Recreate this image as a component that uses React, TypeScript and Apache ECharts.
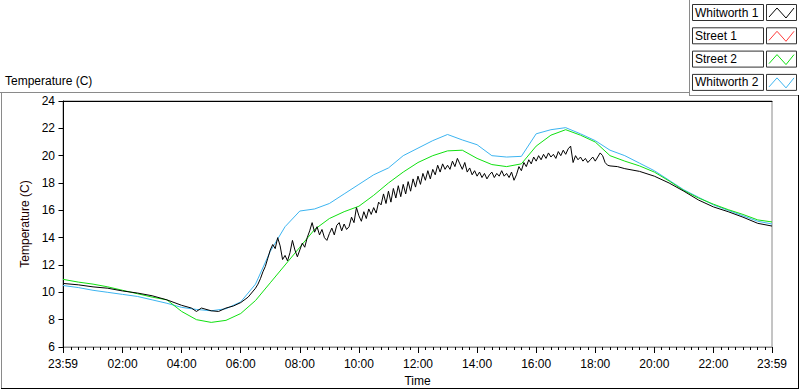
import React, { useEffect, useRef } from "react";
import * as echarts from "echarts";

// ---- axis definitions (hours from midnight; 23:59 of previous day to 23:59) ----
const X_MIN = -1 / 60;
const X_MAX = 24 - 1 / 60;
const majorTickHours = [X_MIN, 2, 4, 6, 8, 10, 12, 14, 16, 18, 20, 22, X_MAX];
const Y_MIN = 6;
const Y_MAX = 24;
const Y_STEP = 2;

const seriesNames = ["Whitworth 1", "Street 1", "Street 2", "Whitworth 2"];
const seriesColors = ["#000000", "#ff3b3b", "#10e010", "#3cb4f0"];

// ---- half-hourly samples for Street 2 and Whitworth 2 ----
const halfHourTimes = [
  X_MIN, 0.5, 1, 1.5, 2, 2.5, 3, 3.5, 4, 4.5, 5, 5.5, 6, 6.5, 7, 7.5, 8, 8.5, 9, 9.5,
  10, 10.5, 11, 11.5, 12, 12.5, 13, 13.5, 14, 14.5, 15, 15.5, 16, 16.5, 17, 17.5, 18,
  18.5, 19, 19.5, 20, 20.5, 21, 21.5, 22, 22.5, 23, 23.5, X_MAX,
];
const street2 = [
  10.95, 10.75, 10.6, 10.4, 10.15, 9.9, 9.65, 9.45, 8.6, 8.0, 7.8, 7.95, 8.45, 9.4,
  10.7, 12.0, 13.3, 14.6, 15.4, 15.9, 16.3, 17.1, 18.0, 18.8, 19.5, 20.0, 20.35, 20.4,
  19.8, 19.35, 19.2, 19.4, 20.7, 21.5, 21.9, 21.5, 21.0, 20.0, 19.6, 19.25, 18.8,
  18.15, 17.45, 16.9, 16.45, 16.05, 15.7, 15.3, 15.15,
];
const whitworth2 = [
  10.5, 10.35, 10.15, 10.0, 9.85, 9.7, 9.45, 9.2, 8.9, 8.75, 8.65, 8.8, 9.3, 10.6,
  13.0, 14.8, 15.95, 16.1, 16.5, 17.2, 17.9, 18.6, 19.1, 20.0, 20.55, 21.1, 21.55,
  21.15, 20.8, 20.0, 19.9, 19.95, 21.6, 21.9, 22.05, 21.6, 21.1, 20.4, 20.0, 19.45,
  18.9, 18.2, 17.5, 16.95, 16.4, 16.0, 15.6, 15.2, 15.0,
];

// ---- Whitworth 1 (noisy sensor) ----
const w1EarlyTimes = [
  X_MIN, 0.5, 1, 1.5, 2, 2.5, 3, 3.5, 4, 4.33, 4.5, 4.67, 5, 5.25, 5.5, 5.75, 6, 6.25,
];
const w1EarlyValues = [
  10.65, 10.55, 10.4, 10.3, 10.1, 9.95, 9.75, 9.45, 9.05, 8.85, 8.6, 8.85, 8.65, 8.6,
  8.85, 9.0, 9.25, 9.65,
];
const w1NoisyStartHour = 6.5; // 06:30, one reading every 5 minutes
const w1NoisyStepMinutes = 5;
const w1NoisyValues = [
  // 06:30
  10.3, 10.6, 11.0, 11.5, 11.9, 12.5,
  // 07:00
  13.1, 13.5, 13.2, 14.0, 13.4, 12.4, 12.7, 12.3, 12.9, 13.8, 13.1, 12.6,
  // 08:00
  13.1, 13.6, 13.3, 14.0, 14.5, 15.1, 14.4, 14.8, 14.2, 14.6, 14.0, 13.8,
  // 09:00
  14.3, 14.7, 14.2, 14.9, 15.1, 14.5, 15.0, 14.6, 14.8, 15.5, 15.1, 16.2,
  // 10:00
  15.6, 15.2, 15.9, 15.4, 16.1, 15.7, 16.2, 15.8, 16.6, 16.4, 17.2, 16.5,
  // 11:00
  17.4, 16.6, 17.6, 16.9, 17.8, 17.0, 17.9, 17.2, 18.1, 17.4, 18.3, 17.7,
  // 12:00
  18.5, 17.9, 18.7, 18.2, 18.9, 18.3, 19.0, 18.6, 19.3, 18.8, 19.4, 19.0,
  // 13:00
  19.3, 19.0, 19.6, 19.2, 19.8, 19.4, 19.0, 19.5, 18.8, 19.1, 18.6, 18.9,
  // 14:00
  18.5, 18.8, 18.4, 18.7, 18.3, 18.6, 18.8, 18.4, 18.7, 18.5, 18.9, 18.5,
  // 15:00
  18.7, 18.4, 18.8, 18.2, 18.6, 19.2, 18.9, 19.5, 19.2, 19.7, 19.4, 19.9,
  // 16:00
  19.6, 20.0, 19.7, 20.1, 19.8, 20.2, 19.9, 20.1, 19.8, 20.3, 20.0, 20.4,
  // 17:00
  20.1, 20.5, 20.7, 19.5, 20.0, 19.7, 19.9, 19.6, 19.8, 19.5, 19.7, 19.9,
  // 18:00
  19.6, 19.9, 20.2, 20.0, 19.5, 19.3, 19.25,
];
const w1LateTimes = [18.75, 19, 19.5, 20, 20.5, 21, 21.5, 22, 22.5, 23, 23.5, X_MAX];
const w1LateValues = [19.2, 19.05, 18.85, 18.5, 18.0, 17.4, 16.75, 16.25, 15.9, 15.5, 15.05, 14.85];

const FONT = "'Liberation Sans', Arial, sans-serif";

function pad(n: number) {
  return n < 10 ? "0" + n : String(n);
}
function fmtTick(v: number) {
  if (v < 0 || v > 23.9) return "23:59";
  return pad(Math.round(v)) + ":00";
}

export default function App() {
  const ref = useRef<HTMLDivElement>(null);

  useEffect(() => {
    if (!ref.current) return;
    const chart = echarts.init(ref.current, undefined, { renderer: "svg" });

    const minorTicks: number[] = [];
    for (let q = 1; q < 96; q++) {
      if (q % 8 !== 0) minorTicks.push(q / 4);
    }

    const pair = (t: number[], v: number[]) => t.map((x, i) => [x, v[i]]);
    const w1Data = [
      ...pair(w1EarlyTimes, w1EarlyValues),
      ...w1NoisyValues.map((v, i) => [w1NoisyStartHour + (i * w1NoisyStepMinutes) / 60, v]),
      ...pair(w1LateTimes, w1LateValues),
    ];

    // legend drawn as LabVIEW-style boxes
    const legendEls: any[] = [];
    seriesNames.forEach((name, i) => {
      const top = 4 + i * 23.3;
      legendEls.push(
        {
          type: "rect",
          shape: { x: 692.5, y: top + 0.5, width: 71, height: 16 },
          style: { fill: "#fff", stroke: "#303030", lineWidth: 1 },
        },
        {
          type: "text",
          x: 695,
          y: top + 8.5,
          style: { text: name, font: `12px ${FONT}`, fill: "#000", verticalAlign: "middle" },
        },
        {
          type: "rect",
          shape: { x: 766.5, y: top + 0.5, width: 30, height: 16 },
          style: { fill: "#fff", stroke: "#303030", lineWidth: 1 },
        },
        {
          type: "polyline",
          shape: {
            points: [
              [769, top + 13],
              [777, top + 4],
              [786, top + 14],
              [794, top + 4],
            ],
          },
          style: { stroke: seriesColors[i], lineWidth: 1, fill: null },
        }
      );
    });

    const frameEls: any[] = [
      { type: "line", shape: { x1: 0, y1: 92.5, x2: 689, y2: 92.5 }, style: { stroke: "#8a8a8a", lineWidth: 1 } },
      { type: "line", shape: { x1: 689.5, y1: 0, x2: 689.5, y2: 95 }, style: { stroke: "#8a8a8a", lineWidth: 1 } },
      { type: "line", shape: { x1: 689, y1: 95.5, x2: 798, y2: 95.5 }, style: { stroke: "#8a8a8a", lineWidth: 1 } },
      { type: "line", shape: { x1: 798.5, y1: 95, x2: 798.5, y2: 389 }, style: { stroke: "#000", lineWidth: 1 } },
      { type: "line", shape: { x1: 1.5, y1: 92, x2: 1.5, y2: 388 }, style: { stroke: "#8a8a8a", lineWidth: 1 } },
      { type: "line", shape: { x1: 1, y1: 388.5, x2: 799, y2: 388.5 }, style: { stroke: "#000", lineWidth: 1 } },
      {
        type: "text",
        x: 5,
        y: 81,
        style: { text: "Temperature (C)", font: `12px ${FONT}`, fill: "#000", verticalAlign: "middle" },
      },
    ];

    chart.setOption({
      animation: false,
      backgroundColor: "#fff",
      textStyle: { fontFamily: FONT },
      grid: {
        left: 63,
        top: 101,
        right: 28,
        bottom: 40,
        show: true,
        borderColor: "#8a8a8a",
        borderWidth: 1,
        backgroundColor: "#fff",
      },
      xAxis: [
        {
          type: "value",
          min: X_MIN,
          max: X_MAX,
          position: "bottom",
          name: "Time",
          nameLocation: "middle",
          nameGap: 28,
          nameTextStyle: { fontSize: 12, color: "#000", fontFamily: FONT },
          axisLine: { show: true, lineStyle: { color: "#8a8a8a", width: 1 } },
          axisTick: {
            show: true,
            customValues: majorTickHours,
            length: 6,
            lineStyle: { color: "#000", width: 1 },
          },
          axisLabel: {
            customValues: majorTickHours,
            formatter: (v: number) => fmtTick(v),
            fontSize: 12,
            color: "#000",
            margin: 11,
            fontFamily: FONT,
          },
          splitLine: { show: false },
        },
        {
          type: "value",
          min: X_MIN,
          max: X_MAX,
          position: "bottom",
          axisLine: { show: false },
          axisTick: {
            show: true,
            customValues: minorTicks,
            length: 3,
            lineStyle: { color: "#000", width: 1 },
          },
          axisLabel: { show: false },
          splitLine: { show: false },
        },
        {
          type: "value",
          min: X_MIN,
          max: X_MAX,
          position: "top",
          axisLine: { show: true, lineStyle: { color: "#000", width: 1 } },
          axisTick: { show: false },
          axisLabel: { show: false },
          splitLine: { show: false },
        },
      ],
      yAxis: {
        type: "value",
        min: Y_MIN,
        max: Y_MAX,
        interval: Y_STEP,
        name: "Temperature (C)",
        nameLocation: "middle",
        nameGap: 18,
        nameTextStyle: { fontSize: 12, color: "#200000", fontFamily: FONT },
        axisLine: { show: true, lineStyle: { color: "#000", width: 1 } },
        axisTick: { show: true, length: 5, lineStyle: { color: "#000" } },
        axisLabel: { fontSize: 12, color: "#000", margin: 8, fontFamily: FONT },
        splitLine: { show: false },
      },
      series: [
        {
          name: "Whitworth 2",
          type: "line",
          showSymbol: false,
          data: pair(halfHourTimes, whitworth2),
          lineStyle: { color: seriesColors[3], width: 1 },
          itemStyle: { color: seriesColors[3] },
        },
        {
          name: "Street 2",
          type: "line",
          showSymbol: false,
          data: pair(halfHourTimes, street2),
          lineStyle: { color: seriesColors[2], width: 1 },
          itemStyle: { color: seriesColors[2] },
        },
        {
          name: "Street 1",
          type: "line",
          showSymbol: false,
          data: [],
          lineStyle: { color: seriesColors[1], width: 1 },
        },
        {
          name: "Whitworth 1",
          type: "line",
          showSymbol: false,
          data: w1Data,
          lineStyle: { color: seriesColors[0], width: 1 },
          itemStyle: { color: seriesColors[0] },
        },
      ],
      graphic: [...frameEls, ...legendEls],
    });

    return () => chart.dispose();
  }, []);

  return (
    <div
      ref={ref}
      style={{ position: "fixed", left: 0, top: 0, width: 800, height: 392, background: "#fff" }}
    />
  );
}
